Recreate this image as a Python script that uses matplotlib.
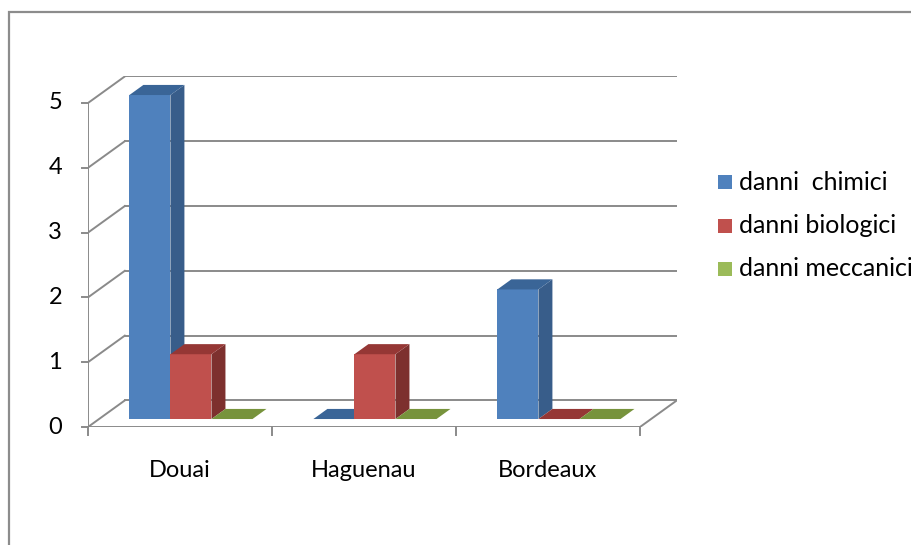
import matplotlib.pyplot as plt
from matplotlib.patches import Polygon, Rectangle

# dati
citta = ['Douai', 'Haguenau', 'Bordeaux']
serie = ['danni  chimici', 'danni biologici', 'danni meccanici']
chimici = [5, 0, 2]
biologici = [1, 1, 0]
meccanici = [0, 0, 0]
valori = [chimici, biologici, meccanici]
yticks = [0, 1, 2, 3, 4, 5]

# colori: fronte, lato, sopra
colori = [('#4F81BD', '#385D8A', '#3A6597'),
          ('#C0504D', '#7D302E', '#953735'),
          ('#9BBB59', '#6E8A35', '#77933C')]

W, H = 911, 545
fig = plt.figure(figsize=(W / 100, H / 100), dpi=100)
plt.rcParams['font.family'] = ['Lato', 'DejaVu Sans']

# profondità prospettica (unità dati)
DX, DY = 0.2, 0.41
px_x, px_y = 184, 64.8
x0_px, y0_px = 88, 427
ax = fig.add_axes([x0_px / W, (H - y0_px) / H,
                   (3 + DX) * px_x / W, (5 + DY) * px_y / H])
ax.set_xlim(0, 3 + DX)
ax.set_ylim(0, 5 + DY)
ax.axis('off')

# pareti e griglia
grid = '#8A8A8A'
lw = 1.4
for v in yticks:
    ax.plot([DX, 3 + DX], [v + DY, v + DY], color=grid, lw=lw, zorder=1)
    ax.plot([0, DX], [v, v + DY], color=grid, lw=lw, zorder=1)
    ax.plot([-0.035, 0], [v, v], color=grid, lw=lw, clip_on=False)
    ax.text(-0.14, v, str(v), ha='right', va='center', fontsize=17)
ax.plot([0, 0], [0, 5], color=grid, lw=lw, zorder=1)
ax.plot([0, 3], [0, 0], color=grid, lw=lw, zorder=1)
ax.plot([3, 3 + DX], [0, DY], color=grid, lw=lw, zorder=1)
for c in range(4):
    ax.plot([c, c], [0, -0.13], color=grid, lw=lw, clip_on=False)
for c, nome in enumerate(citta):
    ax.text(c + 0.5, -0.67, nome, ha='center', va='center', fontsize=17)

# barre 3D
w = 0.223
f1, d = 0.3, 0.38
for c in range(len(citta)):
    for s in range(len(serie)):
        v = valori[s][c]
        fr, lato, sopra = colori[s]
        xf = c + 0.165 + s * w + f1 * DX
        yb = f1 * DY
        if v > 0:
            ax.add_patch(Rectangle((xf, yb), w, v, facecolor=fr, edgecolor='none', zorder=3))
            ax.add_patch(Polygon([(xf + w, yb), (xf + w + d * DX, yb + d * DY),
                                  (xf + w + d * DX, yb + v + d * DY), (xf + w, yb + v)],
                                 facecolor=lato, edgecolor='none', zorder=3))
        ax.add_patch(Polygon([(xf, yb + v), (xf + d * DX, yb + v + d * DY),
                              (xf + w + d * DX, yb + v + d * DY), (xf + w, yb + v)],
                             facecolor=sopra, edgecolor='none', zorder=3))

# legenda
for i, nome in enumerate(serie):
    y = 182 + i * 43.5
    fig.patches.append(Rectangle((718 / W, (H - y - 7) / H), 14 / W, 14 / H,
                                 facecolor=colori[i][0], edgecolor='none',
                                 transform=fig.transFigure))
    fig.text(739 / W, (H - y) / H, nome, ha='left', va='center', fontsize=18)

# bordo area grafico
fig.patches.append(Rectangle((9 / W, -0.1), 1.2, (H - 12) / H + 0.1, fill=False,
                             edgecolor='#8C8C8C', lw=1.6, transform=fig.transFigure))

fig.savefig('out.png', dpi=100)
